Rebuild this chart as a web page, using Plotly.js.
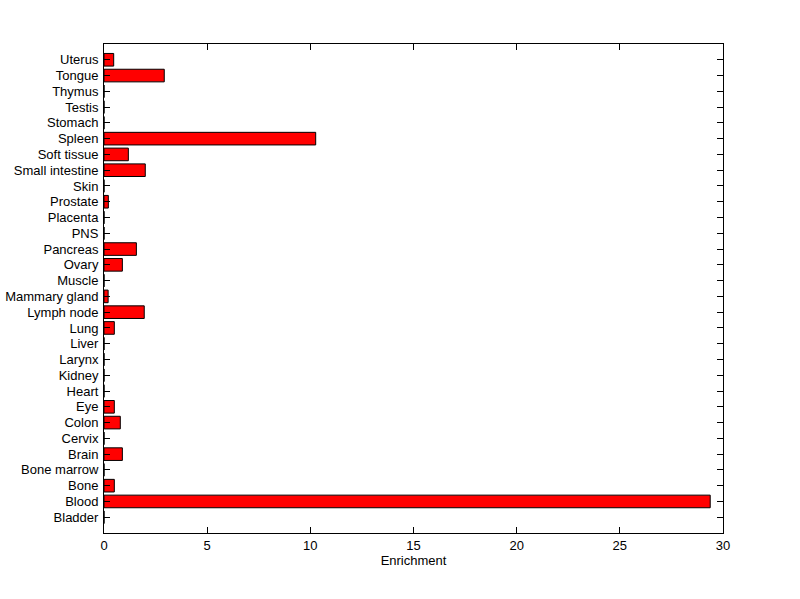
<!DOCTYPE html>
<html>
<head>
<meta charset="utf-8">
<script src="https://cdn.plot.ly/plotly-3.0.1.min.js"></script>
<style>body{margin:0;background:#fff}#chart{width:800px;height:599px}</style>
</head>
<body>
<div id="chart"></div>
<script>
const tissues = ["Bladder","Blood","Bone","Bone marrow","Brain","Cervix","Colon","Eye","Heart","Kidney","Larynx","Liver","Lung","Lymph node","Mammary gland","Muscle","Ovary","Pancreas","PNS","Placenta","Prostate","Skin","Small intestine","Soft tissue","Spleen","Stomach","Testis","Thymus","Tongue","Uterus"];
const enrichment = [0,29.38,0.5,0,0.89,0,0.79,0.5,0,0,0,0,0.5,1.95,0.2,0,0.89,1.57,0,0,0.21,0,2.0,1.18,10.26,0,0,0,2.92,0.47];
const xTicks = [0,5,10,15,20,25,30];

const font = {family: "Liberation Sans, Arial, sans-serif", size: 13, color: "#000"};
Plotly.newPlot("chart", [{
  type: "bar",
  orientation: "h",
  y: tissues,
  x: enrichment,
  width: 0.8,
  marker: {color: "#ff0000", line: {color: "#000", width: 1}},
  hoverinfo: "none"
}], {
  width: 800, height: 599,
  margin: {l: 104, r: 77, t: 44, b: 66, pad: 0},
  paper_bgcolor: "#fff", plot_bgcolor: "#fff",
  font: font,
  showlegend: false,
  xaxis: {
    range: [0, 30], tickvals: xTicks, ticktext: xTicks.map(String),
    ticks: "inside", ticklen: 6, tickcolor: "#000", tickwidth: 1,
    showline: true, linecolor: "#000", linewidth: 1, mirror: "ticks",
    showgrid: false, zeroline: false,
    title: {text: "Enrichment", font: font, standoff: 4}
  },
  yaxis: {
    type: "category", categoryorder: "array", categoryarray: tissues,
    range: [-1, 30], tickvals: tissues,
    ticks: "inside", ticklen: 6, tickcolor: "#000", tickwidth: 1,
    ticklabelstandoff: 2,
    showline: true, linecolor: "#000", linewidth: 1, mirror: "ticks",
    showgrid: false, zeroline: false, automargin: false
  }
}, {staticPlot: true});
</script>
</body>
</html>
